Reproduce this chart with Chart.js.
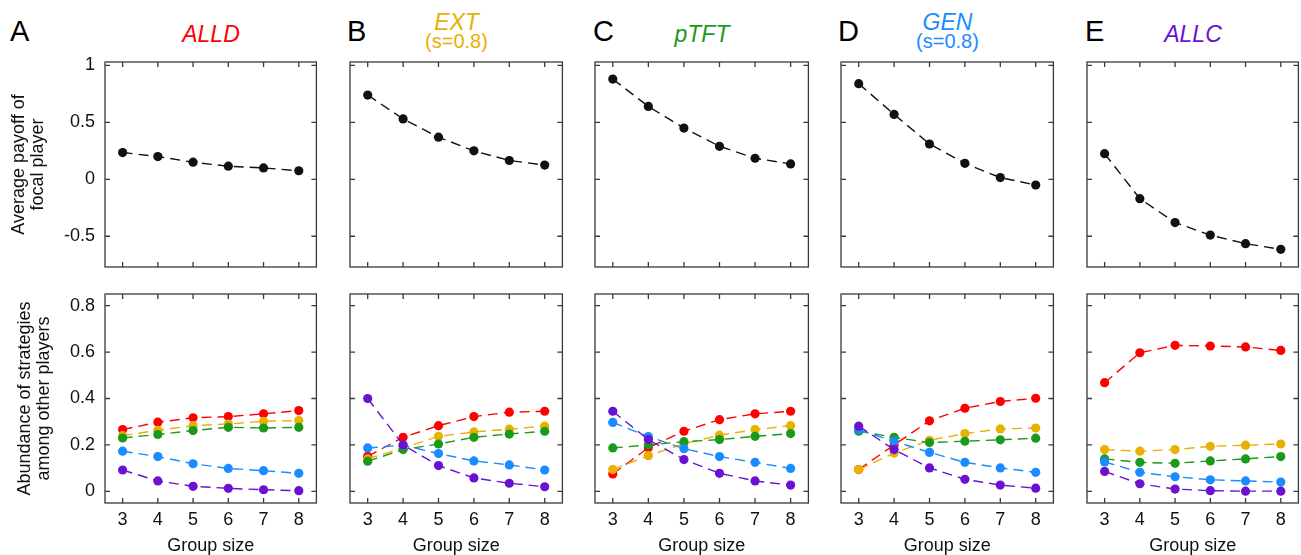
<!DOCTYPE html>
<html>
<head>
<meta charset="utf-8">
<script src="https://cdn.jsdelivr.net/npm/chart.js@4/dist/chart.umd.min.js"></script>
<style>
body{margin:0;width:1301px;height:555px;overflow:hidden;background:#fff;position:relative;font-family:"Liberation Sans",Arial,sans-serif}
canvas{position:absolute}
.lbl{position:absolute;white-space:nowrap;line-height:1}
</style>
</head>
<body>
<script>
// x values and tick labels
const groupSizes = [3, 4, 5, 6, 7, 8]
const payoffTicks = [-0.5, 0, 0.5, 1]
const abundTicks = [0, 0.2, 0.4, 0.6, 0.8]

const panelLetters = ['A', 'B', 'C', 'D', 'E']
const focalNames = ['ALLD', 'EXT', 'pTFT', 'GEN', 'ALLC']
const focalSubs = ['', '(s=0.8)', '', '(s=0.8)', '']
const stratColors = ['#ff0000', '#e8b000', '#1a9a1a', '#1a8cff', '#6a12d0']

// average payoff of focal player (top row)
const payoffALLD = [0.235, 0.20, 0.15, 0.115, 0.10, 0.075]
const payoffEXT  = [0.74, 0.53, 0.37, 0.25, 0.165, 0.125]
const payoffPTFT = [0.88, 0.64, 0.45, 0.29, 0.185, 0.135]
const payoffGEN  = [0.84, 0.57, 0.31, 0.14, 0.015, -0.05]
const payoffALLC = [0.225, -0.17, -0.38, -0.49, -0.565, -0.615]

// abundance of strategies among other players (bottom row), per focal strategy
const ALLD_allD = [0.266, 0.298, 0.317, 0.322, 0.334, 0.348]
const ALLD_ext  = [0.24, 0.263, 0.283, 0.29, 0.302, 0.305]
const ALLD_ptft = [0.23, 0.245, 0.262, 0.276, 0.273, 0.276]
const ALLD_gen  = [0.173, 0.15, 0.119, 0.099, 0.089, 0.078]
const ALLD_allc = [0.092, 0.045, 0.022, 0.013, 0.007, 0.003]

const EXT_allD = [0.151, 0.233, 0.283, 0.322, 0.341, 0.345]
const EXT_ext  = [0.14, 0.187, 0.237, 0.256, 0.268, 0.281]
const EXT_ptft = [0.13, 0.18, 0.204, 0.233, 0.247, 0.259]
const EXT_gen  = [0.187, 0.199, 0.163, 0.131, 0.114, 0.092]
const EXT_allc = [0.40, 0.20, 0.111, 0.058, 0.035, 0.02]

const PTFT_allD = [0.075, 0.188, 0.259, 0.309, 0.334, 0.345]
const PTFT_ext  = [0.094, 0.154, 0.205, 0.242, 0.266, 0.283]
const PTFT_ptft = [0.187, 0.20, 0.214, 0.223, 0.237, 0.249]
const PTFT_gen  = [0.297, 0.236, 0.184, 0.15, 0.125, 0.099]
const PTFT_allc = [0.345, 0.223, 0.137, 0.078, 0.045, 0.027]

const GEN_allD = [0.094, 0.2, 0.304, 0.358, 0.387, 0.401]
const GEN_ext  = [0.094, 0.165, 0.22, 0.249, 0.269, 0.273]
const GEN_ptft = [0.259, 0.233, 0.21, 0.216, 0.222, 0.229]
const GEN_gen  = [0.265, 0.216, 0.168, 0.125, 0.101, 0.082]
const GEN_allc = [0.281, 0.18, 0.101, 0.052, 0.027, 0.014]

const ALLC_allD = [0.468, 0.597, 0.629, 0.626, 0.622, 0.607]
const ALLC_ext  = [0.18, 0.173, 0.18, 0.194, 0.199, 0.204]
const ALLC_ptft = [0.14, 0.125, 0.121, 0.131, 0.14, 0.15]
const ALLC_gen  = [0.127, 0.082, 0.063, 0.05, 0.045, 0.04]
const ALLC_allc = [0.086, 0.033, 0.01, 0.003, 0.001, 0.001]

const payoffs = [payoffALLD, payoffEXT, payoffPTFT, payoffGEN, payoffALLC]
const abundances = [
  [ALLD_allD, ALLD_ext, ALLD_ptft, ALLD_gen, ALLD_allc],
  [EXT_allD, EXT_ext, EXT_ptft, EXT_gen, EXT_allc],
  [PTFT_allD, PTFT_ext, PTFT_ptft, PTFT_gen, PTFT_allc],
  [GEN_allD, GEN_ext, GEN_ptft, GEN_gen, GEN_allc],
  [ALLC_allD, ALLC_ext, ALLC_ptft, ALLC_gen, ALLC_allc]
]

// plot box edges in the page
const colLeft = [105, 350, 595, 841, 1087]
const colRight = [317, 563, 809, 1054, 1299]

const FONT = '"Liberation Sans", Arial, sans-serif'
const INK = '#111'

function addText(txt, x, base, size, color, italic, center) {
  const d = document.createElement('div')
  d.className = 'lbl'
  d.textContent = txt
  d.style.fontSize = size + 'px'
  d.style.color = color
  d.style.top = (base - 0.8465 * size) + 'px'
  d.style.left = x + 'px'
  if (center) d.style.transform = 'translateX(-50%)'
  if (italic) d.style.fontStyle = 'italic'
  document.body.appendChild(d)
}

// box with inward ticks on all sides
const frame = {
  id: 'frame',
  afterDraw(chart) {
    const {ctx, chartArea: a, scales: {x, y}} = chart
    ctx.save()
    ctx.strokeStyle = '#3a3a3a'
    ctx.lineWidth = 1.3
    ctx.strokeRect(a.left, a.top, a.right - a.left, a.bottom - a.top)
    ctx.beginPath()
    x.ticks.forEach(t => {
      const px = x.getPixelForValue(t.value)
      ctx.moveTo(px, a.top); ctx.lineTo(px, a.top + 5)
      ctx.moveTo(px, a.bottom); ctx.lineTo(px, a.bottom - 5)
    })
    y.ticks.forEach(t => {
      const py = y.getPixelForValue(t.value)
      ctx.moveTo(a.left, py); ctx.lineTo(a.left + 5, py)
      ctx.moveTo(a.right, py); ctx.lineTo(a.right - 5, py)
    })
    ctx.stroke()
    ctx.restore()
  }
}

function series(vals, color, order) {
  return {
    data: groupSizes.map((g, i) => ({x: g, y: vals[i]})),
    borderColor: color,
    backgroundColor: color,
    borderWidth: 1.4,
    borderDash: [10, 6],
    pointRadius: 4.6,
    pointBorderWidth: 0,
    pointHoverRadius: 4.6,
    order: order
  }
}

function makeChart(col, row, datasets) {
  const leftExtra = col === 0 ? colLeft[0] : 12
  const bottomExtra = row === 0 ? 6 : 52
  const top = row === 0 ? 52 : 284
  const h = row === 0 ? 221 : 271
  const w = colRight[col] - colLeft[col] + leftExtra + 4
  const cv = document.createElement('canvas')
  cv.width = w
  cv.height = h
  cv.style.left = (colLeft[col] - leftExtra) + 'px'
  cv.style.top = top + 'px'
  cv.style.width = w + 'px'
  cv.style.height = h + 'px'
  document.body.appendChild(cv)

  const yTicks = row === 0 ? payoffTicks : abundTicks
  new Chart(cv, {
    type: 'line',
    data: {datasets: datasets},
    plugins: [frame],
    options: {
      responsive: false,
      animation: false,
      devicePixelRatio: 1,
      layout: {padding: {top: 10, right: 4, left: 0, bottom: 0}},
      plugins: {legend: {display: false}, tooltip: {enabled: false}},
      scales: {
        x: {
          type: 'linear', min: 2.5, max: 8.5,
          afterBuildTicks: s => { s.ticks = groupSizes.map(v => ({value: v})) },
          afterFit: s => { s.height = bottomExtra; s.paddingLeft = 0; s.paddingRight = 0 },
          grid: {display: false, drawTicks: false},
          border: {display: false},
          ticks: {display: row === 1, padding: 6, color: INK, font: {family: FONT, size: 18}},
          title: {display: row === 1, text: 'Group size', color: INK,
                  font: {family: FONT, size: 18, lineHeight: 1}, padding: {top: 0, bottom: 0}}
        },
        y: {
          min: row === 0 ? -0.77 : -0.05,
          max: row === 0 ? 1.03 : 0.85,
          afterBuildTicks: s => { s.ticks = yTicks.map(v => ({value: v})) },
          afterFit: s => { s.width = leftExtra; s.paddingTop = 0; s.paddingBottom = 0 },
          grid: {display: false, drawTicks: false},
          border: {display: false},
          ticks: {display: col === 0, padding: 10, color: INK, font: {family: FONT, size: 18},
                  callback: v => String(v)},
          title: {display: col === 0, color: INK,
                  text: row === 0 ? ['Average payoff of', 'focal player'] : ['Abundance of strategies', 'among other players'],
                  font: {family: FONT, size: 18, lineHeight: 1.05},
                  padding: {top: row === 0 ? 9.5 : 16, bottom: 0}}
        }
      }
    }
  })
}

for (let c = 0; c < 5; c++) {
  makeChart(c, 0, [series(payoffs[c], '#111', 0)])
  makeChart(c, 1, abundances[c].map((vals, k) => series(vals, stratColors[k], 5 - k)))

  const mid = (colLeft[c] + colRight[c]) / 2
  const letterX = [10, 347, 593, 838, 1085][c]
  addText(panelLetters[c], letterX, 42, 29, '#000', false, false)
  if (focalSubs[c]) {
    addText(focalNames[c], mid, 30, 23, stratColors[c], true, true)
    addText(focalSubs[c], mid, 48, 20, stratColors[c], false, true)
  } else {
    addText(focalNames[c], mid, 42, 23, stratColors[c], true, true)
  }
}
</script>
</body>
</html>
